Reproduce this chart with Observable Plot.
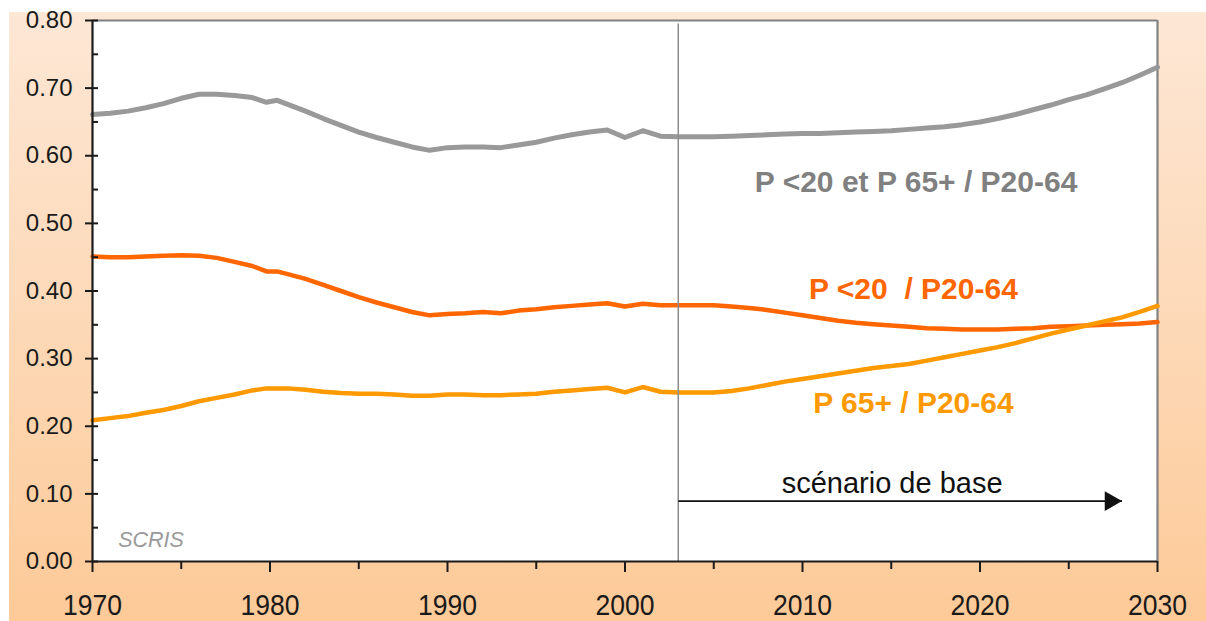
<!DOCTYPE html>
<html>
<head>
<meta charset="utf-8">
<script src="https://cdn.jsdelivr.net/npm/d3@7"></script>
<script src="https://cdn.jsdelivr.net/npm/@observablehq/plot@0.6"></script>
<style>
  html, body { margin: 0; padding: 0; background: #ffffff; }
  #wrap {
    position: absolute; left: 9px; top: 12px; width: 1197px; height: 609px;
    background: linear-gradient(to bottom, #fde7d5 0%, #fdd9b8 50%, #fdca98 100%);
  }
  #wrap svg { overflow: visible; }
  #wrap svg text { white-space: pre; }
</style>
</head>
<body>
<div id="wrap"></div>
<script>
// ---- data ----
const years = [1970,1971,1972,1973,1974,1975,1976,1977,1978,1979,1979.8,1980.4,1981,1982,1983,1984,1985,1986,1987,1988,1989,
  1990,1991,1992,1993,1994,1995,1996,1997,1998,1999,2000,2001,2002,2003,2004,2005,2006,2007,2008,2009,
  2010,2011,2012,2013,2014,2015,2016,2017,2018,2019,2020,2021,2022,2023,2024,2025,2026,2027,2028,2029,2030];
const ratioTotal = [0.661,0.663,0.666,0.671,0.677,0.685,0.691,0.691,0.689,0.686,0.679,0.682,0.676,0.666,0.655,0.645,0.635,0.627,0.620,0.613,0.608,
  0.612,0.613,0.613,0.612,0.616,0.620,0.626,0.631,0.635,0.638,0.627,0.637,0.629,0.628,0.628,0.628,0.629,0.630,0.631,0.632,
  0.633,0.633,0.634,0.635,0.636,0.637,0.639,0.641,0.643,0.646,0.650,0.655,0.661,0.668,0.675,0.683,0.690,0.699,0.708,0.719,0.731];
const ratioYoung = [0.451,0.450,0.450,0.451,0.452,0.453,0.452,0.449,0.443,0.437,0.429,0.429,0.425,0.418,0.409,0.400,0.391,0.383,0.376,0.369,0.364,
  0.366,0.367,0.369,0.367,0.371,0.373,0.376,0.378,0.380,0.382,0.377,0.381,0.379,0.379,0.379,0.379,0.377,0.375,0.372,0.368,
  0.364,0.360,0.356,0.353,0.351,0.349,0.347,0.345,0.344,0.343,0.343,0.343,0.344,0.345,0.347,0.348,0.349,0.350,0.351,0.352,0.354];
const ratioOld = [0.209,0.212,0.215,0.220,0.224,0.230,0.237,0.242,0.247,0.253,0.256,0.256,0.256,0.254,0.251,0.249,0.248,0.248,0.247,0.245,0.245,
  0.247,0.247,0.246,0.246,0.247,0.248,0.251,0.253,0.255,0.257,0.250,0.258,0.251,0.250,0.250,0.250,0.252,0.256,0.261,0.266,
  0.270,0.274,0.278,0.282,0.286,0.289,0.292,0.297,0.302,0.307,0.312,0.317,0.323,0.330,0.337,0.343,0.349,0.355,0.361,0.369,0.378];

const yMajorTicks = [0,0.1,0.2,0.3,0.4,0.5,0.6,0.7,0.8];
const yAllTicks = [0,0.05,0.1,0.15,0.2,0.25,0.3,0.35,0.4,0.45,0.5,0.55,0.6,0.65,0.7,0.75,0.8];
const xMajorTicks = [1970,1980,1990,2000,2010,2020,2030];
const xMinorTicks = [1975,1985,1995,2005,2015,2025];

const labelTexts = ["P <20 et P 65+ / P20-64", "P <20  / P20-64", "P 65+ / P20-64"];
const labelX = [2016.4, 2016.25, 2016.25];
const labelY = [0.561, 0.403, 0.234];
const labelColors = ["#808080", "#ff6600", "#ff9900"];

const scenarioYear = 2003;
const scenarioText = "scénario de base";
const scenarioTextPos = {x: 2015.05, y: 0.1143};
const arrowY = 0.0893;
const arrowTip = 2028;
const sourceText = "SCRIS";
const sourcePos = {x: 1973.3, y: 0.0318};

// ---- build ----
const rows = (vals) => years.map((yr, i) => ({year: yr, value: vals[i]}));
const labels = labelTexts.map((t, i) => ({text: t, x: labelX[i], y: labelY[i], color: labelColors[i]}));

const chart = Plot.plot({
  width: 1197,
  height: 609,
  marginLeft: 83,
  marginTop: 8,
  marginRight: 49,
  marginBottom: 60,
  style: {background: "transparent", fontFamily: "'Liberation Sans', Arial, sans-serif", overflow: "visible"},
  x: {domain: [1970, 2030], axis: null},
  y: {domain: [0, 0.8], axis: null},
  marks: [
    Plot.frame({fill: "white", stroke: "none"}),
    Plot.ruleY([0.8], {stroke: "#828282", strokeWidth: 2.2}),
    Plot.ruleX([2030], {stroke: "#828282", strokeWidth: 2.2}),
    Plot.line(rows(ratioTotal), {x: "year", y: "value", stroke: "#999999", strokeWidth: 5, strokeLinejoin: "round"}),
    Plot.line(rows(ratioYoung), {x: "year", y: "value", stroke: "#ff6600", strokeWidth: 4.5, strokeLinejoin: "round"}),
    Plot.line(rows(ratioOld), {x: "year", y: "value", stroke: "#ff9900", strokeWidth: 4.5, strokeLinejoin: "round"}),
    Plot.ruleX([scenarioYear], {y1: 0, y2: 0.795, stroke: "#8c8c8c", strokeWidth: 1.5}),
    Plot.link([{x1: scenarioYear, x2: arrowTip, y: arrowY}], {x1: "x1", x2: "x2", y1: "y", y2: "y", stroke: "#111", strokeWidth: 1.8}),
    Plot.dot([{x: arrowTip, y: arrowY}], {x: "x", y: "y", symbol: "triangle", rotate: 90, r: 7.4, fill: "#111", stroke: "none", dx: -11.5}),
    Plot.ruleX([1970], {stroke: "#1a1a1a", strokeWidth: 2.2}),
    Plot.ruleY([0], {stroke: "#1a1a1a", strokeWidth: 2.2}),
    Plot.axisY(yMajorTicks, {anchor: "left", tickSize: 7, tickPadding: 13, strokeWidth: 2, color: "#1a1a1a",
      tickFormat: d3.format(".2f"), fontSize: 24}),
    Plot.axisY(yAllTicks, {anchor: "left", tickSize: -6, strokeWidth: 2, color: "#1a1a1a", tickFormat: () => ""}),
    Plot.axisX(xMajorTicks, {anchor: "bottom", tickSize: 11, tickPadding: 21, strokeWidth: 2, color: "#1a1a1a",
      tickFormat: d => String(d), fontSize: 30}),
    Plot.axisX(xMinorTicks, {anchor: "bottom", tickSize: 8, strokeWidth: 2, color: "#1a1a1a", tickFormat: () => ""}),
    Plot.text(labels, {x: "x", y: "y", text: "text", fill: "color", fontSize: 30, fontWeight: "bold"}),
    Plot.text([scenarioText], {x: scenarioTextPos.x, y: scenarioTextPos.y, text: d => d, fill: "#111", fontSize: 29}),
    Plot.text([sourceText], {x: sourcePos.x, y: sourcePos.y, text: d => d, fill: "#9a9a9a", fontSize: 21.5, fontStyle: "italic"})
  ]
});

document.getElementById("wrap").appendChild(chart);
// narrow the year labels slightly, like the reference typeface
chart.querySelectorAll('g[aria-label="x-axis tick label"] text').forEach(t => {
  const tr = t.getAttribute("transform") || "";
  t.setAttribute("transform", tr + " scale(0.885,1)");
});
</script>
</body>
</html>
